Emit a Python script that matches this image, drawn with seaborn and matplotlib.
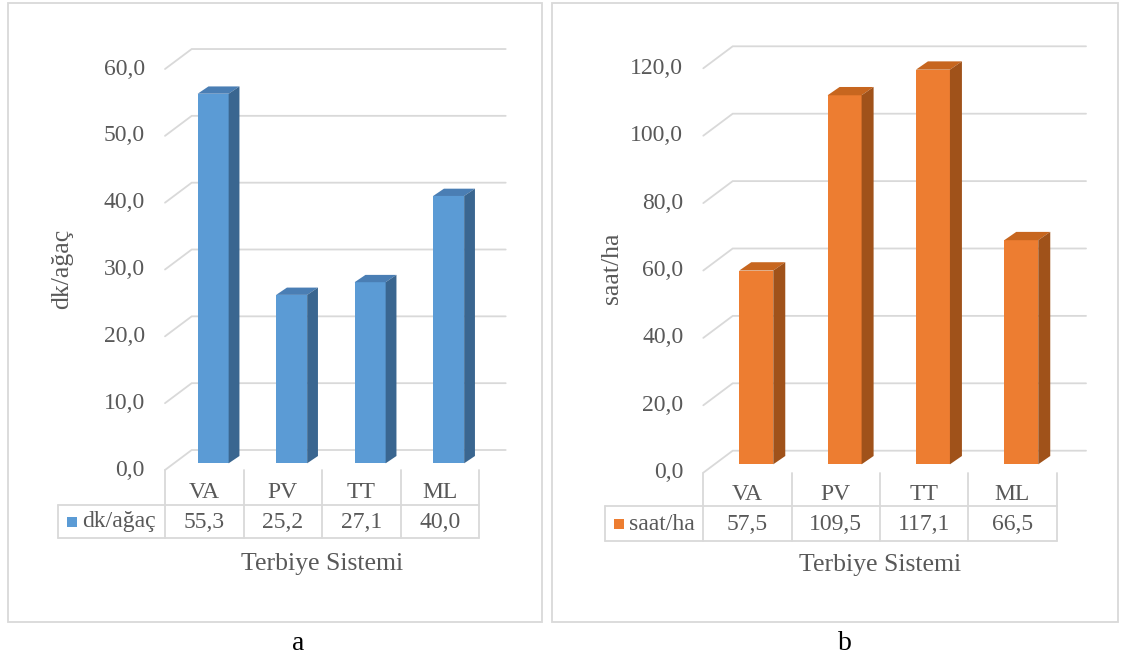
import matplotlib
matplotlib.use("Agg")
import matplotlib.pyplot as plt
import seaborn as sns
from matplotlib.patches import Polygon, Rectangle
from matplotlib.lines import Line2D
from matplotlib.transforms import IdentityTransform

# ---- data -------------------------------------------------------------
categories = ["VA", "PV", "TT", "ML"]
dk_agac = [55.3, 25.2, 27.1, 40.0]
saat_ha = [57.5, 109.5, 117.1, 66.5]
dk_ticks = [0, 10, 20, 30, 40, 50, 60]
saat_ticks = [0, 20, 40, 60, 80, 100, 120]
series_names = ["dk/ağaç", "saat/ha"]
x_title = "Terbiye Sistemi"
panel_tags = ["a", "b"]

# ---- style ------------------------------------------------------------
W, H = 1121, 659
sns.set_theme(style="white")
plt.rcParams["font.family"] = ["Liberation Serif", "DejaVu Serif"]
TEXT = "#595959"
GRID = "#D9D9D9"
IDT = IdentityTransform()


def fmt(v):
    return f"{v:.1f}".replace(".", ",")


fig = plt.figure(figsize=(W / 100, H / 100), dpi=100)
fig.patch.set_facecolor("white")

# layout of each pseudo-3D panel, in pixels (image coords, y downwards)
layouts = [
    dict(values=dk_agac, ticks=dk_ticks, ymax=60, name=series_names[0],
         front="#5B9BD5", top="#4A7EB4", side="#3A6690",
         front_left=165.0, col_w=78.5, zero=470.0, ppu=6.683,
         shift=(8.9, 6.7), back=(26.7, 20.0), depth=(10.8, 7.3), bar_w=0.395,
         legend_left=58.0, row_mid=505.0, row_bot=538.0,
         head_y=492.7, val_y=522.0,
         frame=(8.3, 3.0, 541.7, 621.7), ylabel_xy=(62.5, 269.0),
         xlabel_xy=(321.6, 564.0), tag=panel_tags[0], tag_x=298.0),
    dict(values=saat_ha, ticks=saat_ticks, ymax=120, name=series_names[1],
         front="#ED7D31", top="#C7661F", side="#A0521A",
         front_left=703.3, col_w=88.33, zero=472.7, ppu=3.37,
         shift=(8.8, 8.4), back=(29.4, 22.0), depth=(12.0, 8.3), bar_w=0.385,
         legend_left=605.0, row_mid=506.0, row_bot=541.0,
         head_y=494.0, val_y=524.0,
         frame=(552.3, 3.0, 1117.5, 621.7), ylabel_xy=(612.0, 268.0),
         xlabel_xy=(880.0, 565.0), tag=panel_tags[1], tag_x=845.0),
]


def yd(y_img):
    return H - y_img


for L in layouts:
    n = len(categories)
    sx, sy = L["shift"]
    left = L["front_left"] + sx
    bottom_img = L["zero"] - sy
    width = n * L["col_w"]
    height = L["ymax"] * L["ppu"]
    ax = fig.add_axes([left / W, 1 - bottom_img / H, width / W, height / H])

    sns.barplot(x=categories, y=L["values"], ax=ax, color=L["front"],
                saturation=1, width=L["bar_w"], edgecolor="none", zorder=2)
    ax.set_xlim(-0.5, n - 0.5)
    ax.set_ylim(0, L["ymax"])
    ax.axis("off")

    bx, by = L["back"]
    dx, dy = L["depth"]
    tdata = ax.transData

    # back-wall gridlines with their diagonal returns to the front plane
    for t in L["ticks"]:
        xl, yv = tdata.transform((-0.5, t))
        xr, _ = tdata.transform((n - 0.5, t))
        fx, fy = xl - sx, yv - sy
        ax.add_line(Line2D([fx, fx + bx, xr - sx + bx], [fy, fy + by, fy + by],
                           transform=IDT, color=GRID, lw=1.3, zorder=0.5,
                           clip_on=False, solid_joinstyle="miter"))
        fig.text(fx - 20, fy, fmt(t), transform=IDT, ha="right", va="center",
                 fontsize=17, color=TEXT)

    # top and side faces of each bar
    for p in ax.patches:
        x0, x1 = p.get_x(), p.get_x() + p.get_width()
        (px0, py0) = tdata.transform((x0, 0))
        (px1, py1) = tdata.transform((x1, p.get_height()))
        ax.add_patch(Polygon([(px0, py1), (px1, py1), (px1 + dx, py1 + dy), (px0 + dx, py1 + dy)],
                             closed=True, transform=IDT, facecolor=L["top"],
                             edgecolor="none", zorder=2.1, clip_on=False))
        ax.add_patch(Polygon([(px1, py0), (px1, py1), (px1 + dx, py1 + dy), (px1 + dx, py0 + dy)],
                             closed=True, transform=IDT, facecolor=L["side"],
                             edgecolor="none", zorder=2.1, clip_on=False))

    # data table under the chart
    zero_front = tdata.transform((0, 0))[1] - sy
    col_x = [L["front_left"] + i * L["col_w"] for i in range(n + 1)]
    right_x = col_x[-1]
    lw_t = 1.3
    for cx in col_x:
        fig.add_artist(Line2D([cx, cx], [zero_front, yd(L["row_bot"])], transform=IDT,
                              color=GRID, lw=lw_t))
    for yy in (L["row_mid"], L["row_bot"]):
        fig.add_artist(Line2D([L["legend_left"], right_x], [yd(yy), yd(yy)], transform=IDT,
                              color=GRID, lw=lw_t))
    fig.add_artist(Line2D([L["legend_left"], L["legend_left"]], [yd(L["row_mid"]), yd(L["row_bot"])],
                          transform=IDT, color=GRID, lw=lw_t))
    for i, (c, v) in enumerate(zip(categories, L["values"])):
        cx = (col_x[i] + col_x[i + 1]) / 2
        fig.text(cx, yd(L["head_y"]), c, transform=IDT, ha="center", va="center",
                 fontsize=17, color=TEXT)
        fig.text(cx, yd(L["val_y"]), fmt(v), transform=IDT, ha="center", va="center",
                 fontsize=17, color=TEXT)
    sq = 10
    fig.add_artist(Rectangle((L["legend_left"] + 9, yd(L["val_y"]) - sq / 2), sq, sq,
                             transform=IDT, facecolor=L["front"], edgecolor="none"))
    fig.text(L["legend_left"] + 24, yd(L["val_y"]), L["name"], transform=IDT,
             ha="left", va="center", fontsize=17, color=TEXT)

    # axis titles
    fig.text(L["ylabel_xy"][0], yd(L["ylabel_xy"][1]), L["name"], transform=IDT,
             rotation=90, ha="center", va="center", fontsize=18.5, color=TEXT)
    fig.text(L["xlabel_xy"][0], yd(L["xlabel_xy"][1]), x_title, transform=IDT,
             ha="center", va="center", fontsize=18.5, color=TEXT)

    # chart-area border
    x0f, y0f, x1f, y1f = L["frame"]
    fig.add_artist(Rectangle((x0f, yd(y1f)), x1f - x0f, y1f - y0f, transform=IDT,
                             facecolor="none", edgecolor=GRID, lw=1.3))

    # panel tag below the border
    fig.text(L["tag_x"], yd(643), L["tag"], transform=IDT, ha="center", va="center",
             fontsize=20, color="black")

fig.savefig("out.png", dpi=100)
